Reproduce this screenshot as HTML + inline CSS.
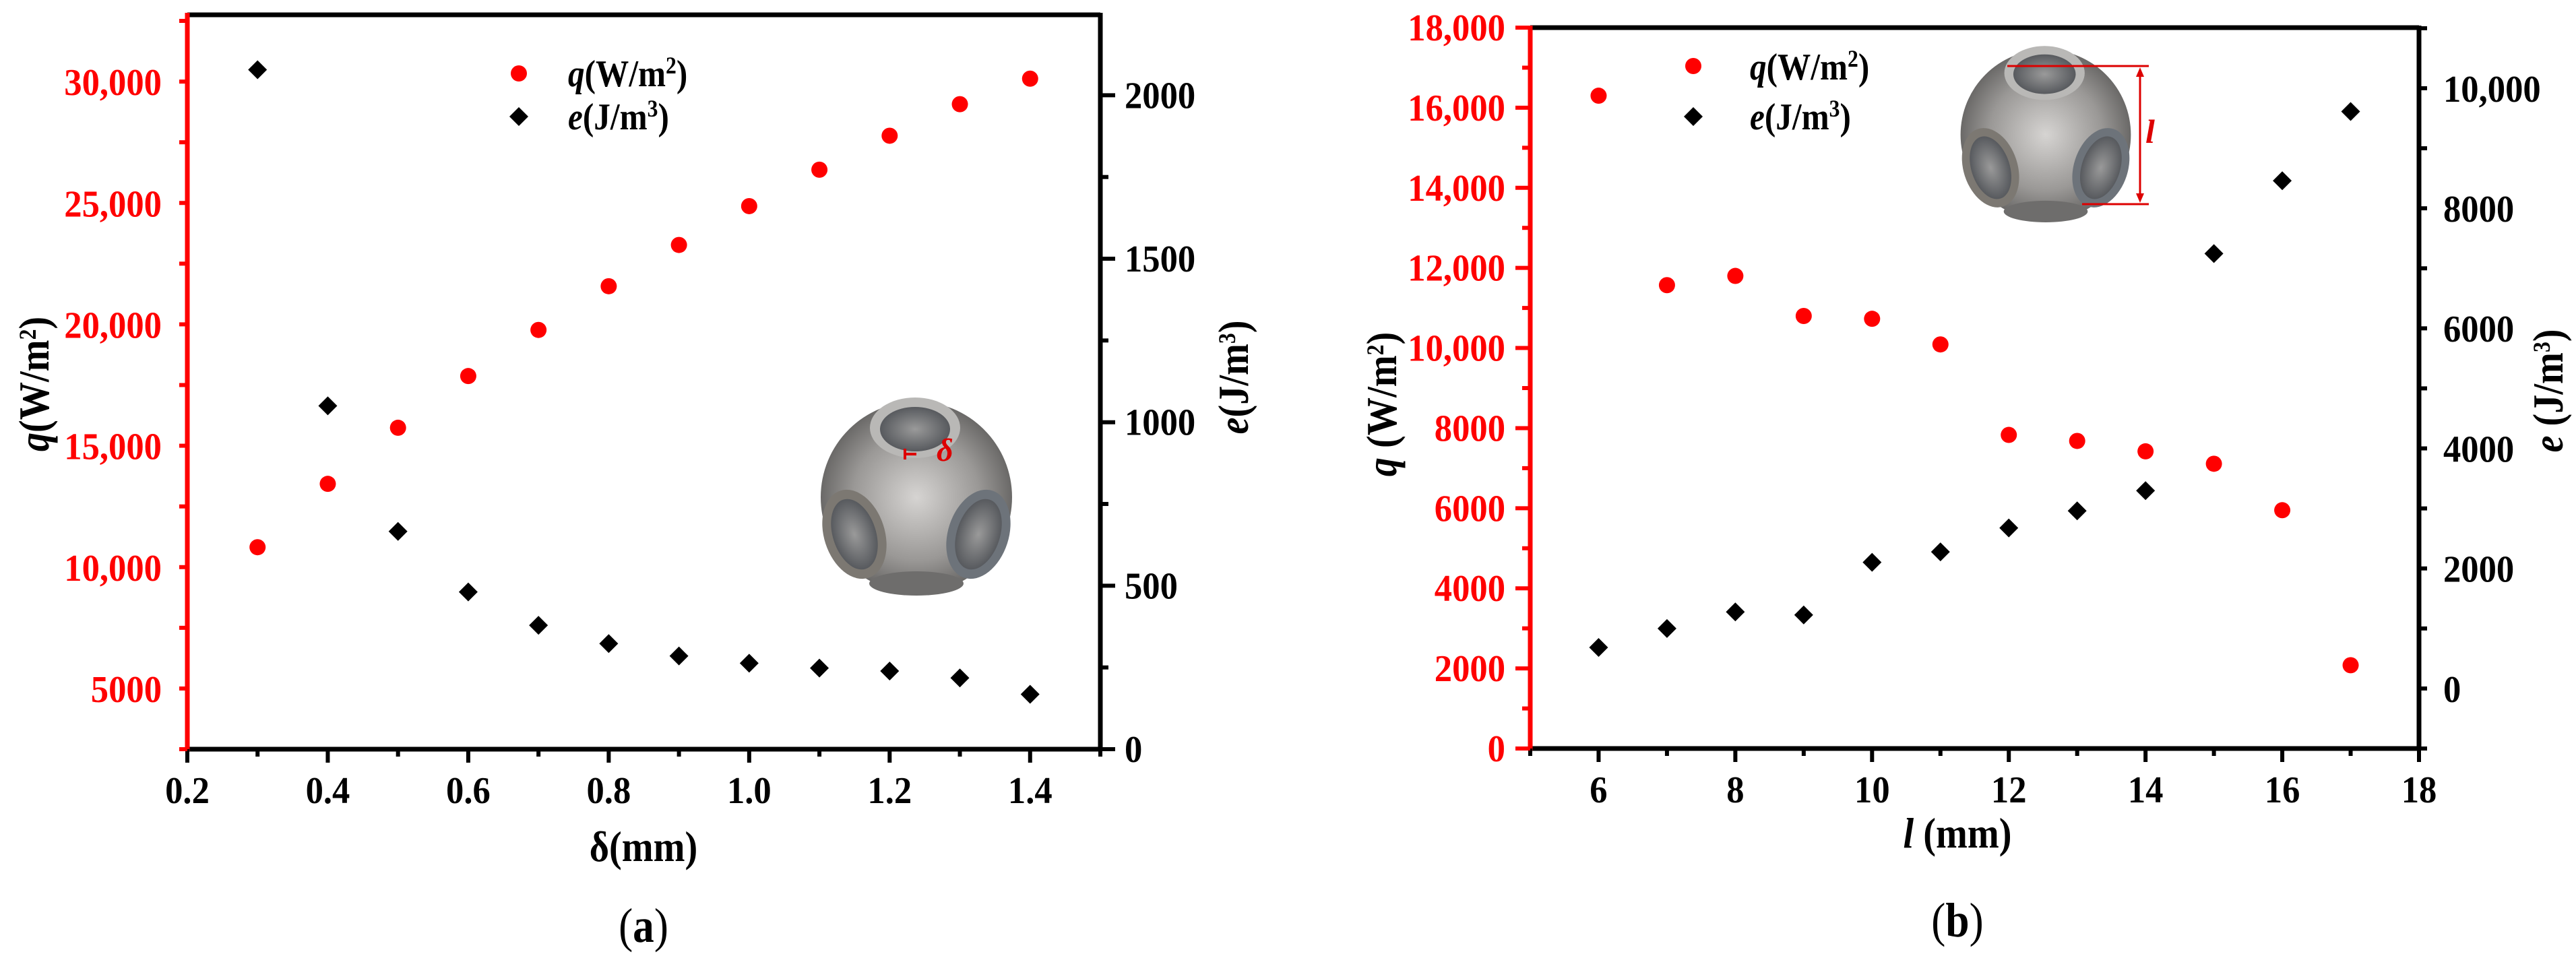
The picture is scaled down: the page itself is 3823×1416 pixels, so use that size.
<!DOCTYPE html>
<html><head><meta charset="utf-8"><style>
html,body{margin:0;padding:0;background:#fff;}
svg{display:block;}
text{font-family:"Liberation Serif",serif;font-weight:bold;}
</style></head><body>
<svg id="fig" width="3823" height="1416" viewBox="0 0 3823 1416" xmlns="http://www.w3.org/2000/svg">
<defs>
<radialGradient id="bodyGrad" cx="0.5" cy="0.5" r="0.6">
<stop offset="0" stop-color="#d6d4d2"/><stop offset="0.55" stop-color="#9a9896"/><stop offset="1" stop-color="#4e4d4c"/>
</radialGradient>
<radialGradient id="holeGrad" cx="0.5" cy="0.5" r="0.6">
<stop offset="0" stop-color="#9a9a9a"/><stop offset="1" stop-color="#4a4d52"/>
</radialGradient>
<g id="cell">
<ellipse cx="0" cy="0" rx="142" ry="142" fill="url(#bodyGrad)"/>
<ellipse cx="0" cy="128" rx="70" ry="18" fill="#6e6d6c"/>
<ellipse cx="-2" cy="-103" rx="67" ry="45" fill="#b9b8b6"/>
<ellipse cx="-2" cy="-101" rx="52" ry="33" fill="url(#holeGrad)"/>
<ellipse cx="-92" cy="55" rx="45" ry="68" transform="rotate(-18 -92 55)" fill="#7c7872"/>
<ellipse cx="-92" cy="55" rx="32" ry="54" transform="rotate(-18 -92 55)" fill="url(#holeGrad)"/>
<ellipse cx="92" cy="55" rx="45" ry="68" transform="rotate(18 92 55)" fill="#6d737a"/>
<ellipse cx="92" cy="55" rx="32" ry="54" transform="rotate(18 92 55)" fill="url(#holeGrad)"/>
</g>
</defs>
</svg>
<script>
// ---- data (a) ----
const deltaA = [0.3,0.4,0.5,0.6,0.7,0.8,0.9,1.0,1.1,1.2,1.3,1.4];
const qA = [10850,13460,15770,17900,19800,21600,23300,24900,26400,27800,29100,30150];
const eA = [2078,1050,666,481,379,323,285,263,248,239,218,168];
const xTicksA = ["0.2","0.4","0.6","0.8","1.0","1.2","1.4"];
const qTicksA = ["5000","10,000","15,000","20,000","25,000","30,000"];
const eTicksA = ["0","500","1000","1500","2000"];
// ---- data (b) ----
const lenB = [6,7,8,9,10,11,12,13,14,15,16,17];
const qB = [16300,11570,11800,10800,10730,10090,7830,7680,7420,7110,5950,2080];
const eB = [694,1010,1286,1235,2112,2286,2684,2969,3306,7255,8469,9622];
const xTicksB = ["6","8","10","12","14","16","18"];
const qTicksB = ["0","2000","4000","6000","8000","10,000","12,000","14,000","16,000","18,000"];
const eTicksB = ["0","2000","4000","6000","8000","10,000"];

const NS="http://www.w3.org/2000/svg";
const svg=document.getElementById('fig');
function el(tag,attrs,parent){const e=document.createElementNS(NS,tag);for(const k in attrs)e.setAttribute(k,attrs[k]);(parent||svg).appendChild(e);return e;}
function txt(x,y,s,anchor,size,fill,parent,rot){
  const g=el('g',{transform:`translate(${x},${y})`+(rot?` rotate(${rot})`:'')+' scale(0.94,1)'},parent);
  const t=el('text',{x:0,y:0,'text-anchor':anchor,'font-size':size,fill:fill},g);
  t.textContent=s;return t;
}
function scale(d0,d1,p0,p1){return v=>p0+(v-d0)*(p1-p0)/(d1-d0);}

function panel(cfg){
  const g=el('g',{});
  
  
  const {L,R,T,B}=cfg;
  const X=scale(cfg.xd[0],cfg.xd[1],L,R);
  const Y1=scale(cfg.qd[0],cfg.qd[1],B,T);
  const Y2=scale(cfg.ed[0],cfg.ed[1],B,T);
  const top=el('line',{x1:L,y1:T,x2:R,y2:T,stroke:'#000','stroke-width':7},g);
  
  const bot=el('line',{x1:L,y1:B,x2:R+3,y2:B,stroke:'#000','stroke-width':7},g);
  
  const ra=el('line',{x1:R,y1:T-3,x2:R,y2:B+3,stroke:'#000','stroke-width':7},g);
  
  const la=el('line',{x1:L,y1:T-3,x2:L,y2:B+3,stroke:'#f00','stroke-width':7},g);
  
  for(let v=cfg.xd[0];v<=cfg.xd[1]+1e-9;v+=cfg.xminor){
    const x=X(v);const major=Math.abs(((v-cfg.xmajor0)/cfg.xmajor)-Math.round((v-cfg.xmajor0)/cfg.xmajor))<1e-6;
    el('line',{x1:x,y1:B,x2:x,y2:B+(major?20:11),stroke:'#000','stroke-width':6},g);
  }
  cfg.xTicks.forEach(s=>{const t=txt(X(parseFloat(s)),B+80,s,'middle',56,'#000',g);
    });
  const qVals=cfg.qTicks.map(s=>parseFloat(s.replace(',','')));
  const qStep=qVals[1]-qVals[0];
  for(let v=cfg.qd[0];v<=cfg.qd[1]+1e-9;v+=qStep/2){
    const y=Y1(v);const major=Math.abs((v-qVals[0])/qStep-Math.round((v-qVals[0])/qStep))<1e-6;
    el('line',{x1:L,y1:y,x2:L-(major?22:12),y2:y,stroke:'#f00','stroke-width':6},g);
  }
  cfg.qTicks.forEach((s,i)=>{const t=txt(cfg.qLabelX,Y1(qVals[i])+19,s,'end',56,'#f00',g);
    });
  const eVals=cfg.eTicks.map(s=>parseFloat(s.replace(',','')));
  const eStep=eVals[1]-eVals[0];
  for(let v=cfg.ed[0];v<=cfg.ed[1]+1e-9;v+=eStep/2){
    const y=Y2(v);const major=Math.abs((v-eVals[0])/eStep-Math.round((v-eVals[0])/eStep))<1e-6;
    el('line',{x1:R,y1:y,x2:R+(major?22:12),y2:y,stroke:'#000','stroke-width':6},g);
  }
  cfg.eTicks.forEach((s,i)=>{const t=txt(R+36,Y2(eVals[i])+19,s,'start',56,'#000',g);
    });
  cfg.xs.forEach((xv,i)=>{
    const c=el('circle',{cx:X(xv),cy:Y1(cfg.q[i]),r:12,fill:'#f00'},g);
    
  });
  cfg.xs.forEach((xv,i)=>{
    const x=X(xv),y=Y2(cfg.e[i]);
    const p=el('polygon',{points:`${x},${y-14} ${x+14},${y} ${x},${y+14} ${x-14},${y}`,fill:'#000'},g);
    
  });
  return {g,X,Y1,Y2};
}

const A=panel({name:'chart-a',L:278,R:1633,T:22,B:1112,xd:[0.2,1.5],xminor:0.1,xmajor:0.2,xmajor0:0.2,
  qd:[2530,32780],ed:[0,2246],xTicks:xTicksA,qTicks:qTicksA,eTicks:eTicksA,qLabelX:240,
  xs:deltaA,q:qA,e:eA});
const Bp=panel({name:'chart-b',L:2271,R:3590,T:41,B:1111,xd:[5,18],xminor:1,xmajor:2,xmajor0:6,
  qd:[0,18000],ed:[-990,11020],xTicks:xTicksB,qTicks:qTicksB,eTicks:eTicksB,qLabelX:2234,
  xs:lenB,q:qB,e:eB});

function rich(x,y,parts,size,anchor,rot,name){
  const g=el('g',{transform:`translate(${x},${y})`+(rot?` rotate(${rot})`:'')+' scale(0.88,1)'});
  const t=el('text',{x:0,y:0,'font-size':size,'text-anchor':anchor||'start'},g);
  parts.forEach(p=>{const s=el('tspan',p.a||{},t);s.textContent=p.t;});
  
  return t;
}
const sup=(t)=>({t,a:{'baseline-shift':'super','font-size':'36'}});
const it=(t)=>({t,a:{'font-style':'italic'}});

rich(1852,560,[it('e'),{t:'(J/m'},sup('3'),{t:')'}],64,'middle',-90,'right-y-axis-title');
rich(72,570,[it('q'),{t:'(W/m'},sup('2'),{t:')'}],64,'middle',-90,'left-y-axis-title');
rich(955,1278,[{t:'δ(mm)'}],64,'middle',0,'x-axis-title');
rich(955,1398,[{t:'(',a:{'font-weight':'normal'}},{t:'a'},{t:')',a:{'font-weight':'normal'}}],72,'middle',0,'panel-label-a');
let c=el('circle',{cx:770,cy:109,r:12,fill:'#f00'});
rich(843,128,[it('q'),{t:'(W/m'},sup('2'),{t:')'}],56,'start',0,'legend-q-label');
let d=el('polygon',{points:'770,159 784,173 770,187 756,173',fill:'#000'});
rich(843,192,[it('e'),{t:'(J/m'},sup('3'),{t:')'}],56,'start',0,'legend-e-label');

rich(3803,580,[it('e'),{t:' (J/m'},sup('3'),{t:')'}],64,'middle',-90,'right-y-axis-title');
rich(2072,600,[it('q'),{t:' (W/m'},sup('2'),{t:')'}],64,'middle',-90,'left-y-axis-title');
rich(2905,1258,[it('l'),{t:' (mm)'}],64,'middle',0,'x-axis-title');
rich(2905,1390,[{t:'(',a:{'font-weight':'normal'}},{t:'b'},{t:')',a:{'font-weight':'normal'}}],72,'middle',0,'panel-label-b');
c=el('circle',{cx:2513,cy:98,r:12,fill:'#f00'});
rich(2597,118,[it('q'),{t:'(W/m'},sup('2'),{t:')'}],56,'start',0,'legend-q-label');
d=el('polygon',{points:'2513,159 2527,173 2513,187 2499,173',fill:'#000'});
rich(2597,192,[it('e'),{t:'(J/m'},sup('3'),{t:')'}],56,'start',0,'legend-e-label');

let u=el('use',{href:'#cell',transform:'translate(1360,738)'});
el('line',{x1:1343,y1:666,x2:1343,y2:682,stroke:'#d00','stroke-width':4});
el('line',{x1:1343,y1:674,x2:1360,y2:674,stroke:'#d00','stroke-width':4});
let dl=el('text',{x:1390,y:684,'font-size':48,fill:'#d00','font-style':'italic','font-weight':'normal'});dl.textContent='δ';

u=el('use',{href:'#cell',transform:'translate(3036,200) scale(0.89)'});
el('line',{x1:2979,y1:98,x2:3189,y2:98,stroke:'#d00','stroke-width':3});
el('line',{x1:3090,y1:303,x2:3189,y2:303,stroke:'#d00','stroke-width':3});
el('line',{x1:3176,y1:104,x2:3176,y2:297,stroke:'#d00','stroke-width':3});
el('polygon',{points:'3176,100 3170,114 3182,114',fill:'#d00'});
el('polygon',{points:'3176,301 3170,287 3182,287',fill:'#d00'});
let ll=el('text',{x:3184,y:212,'font-size':50,fill:'#d00','font-style':'italic','font-weight':'normal'});ll.textContent='l';

</script>
</body></html>
